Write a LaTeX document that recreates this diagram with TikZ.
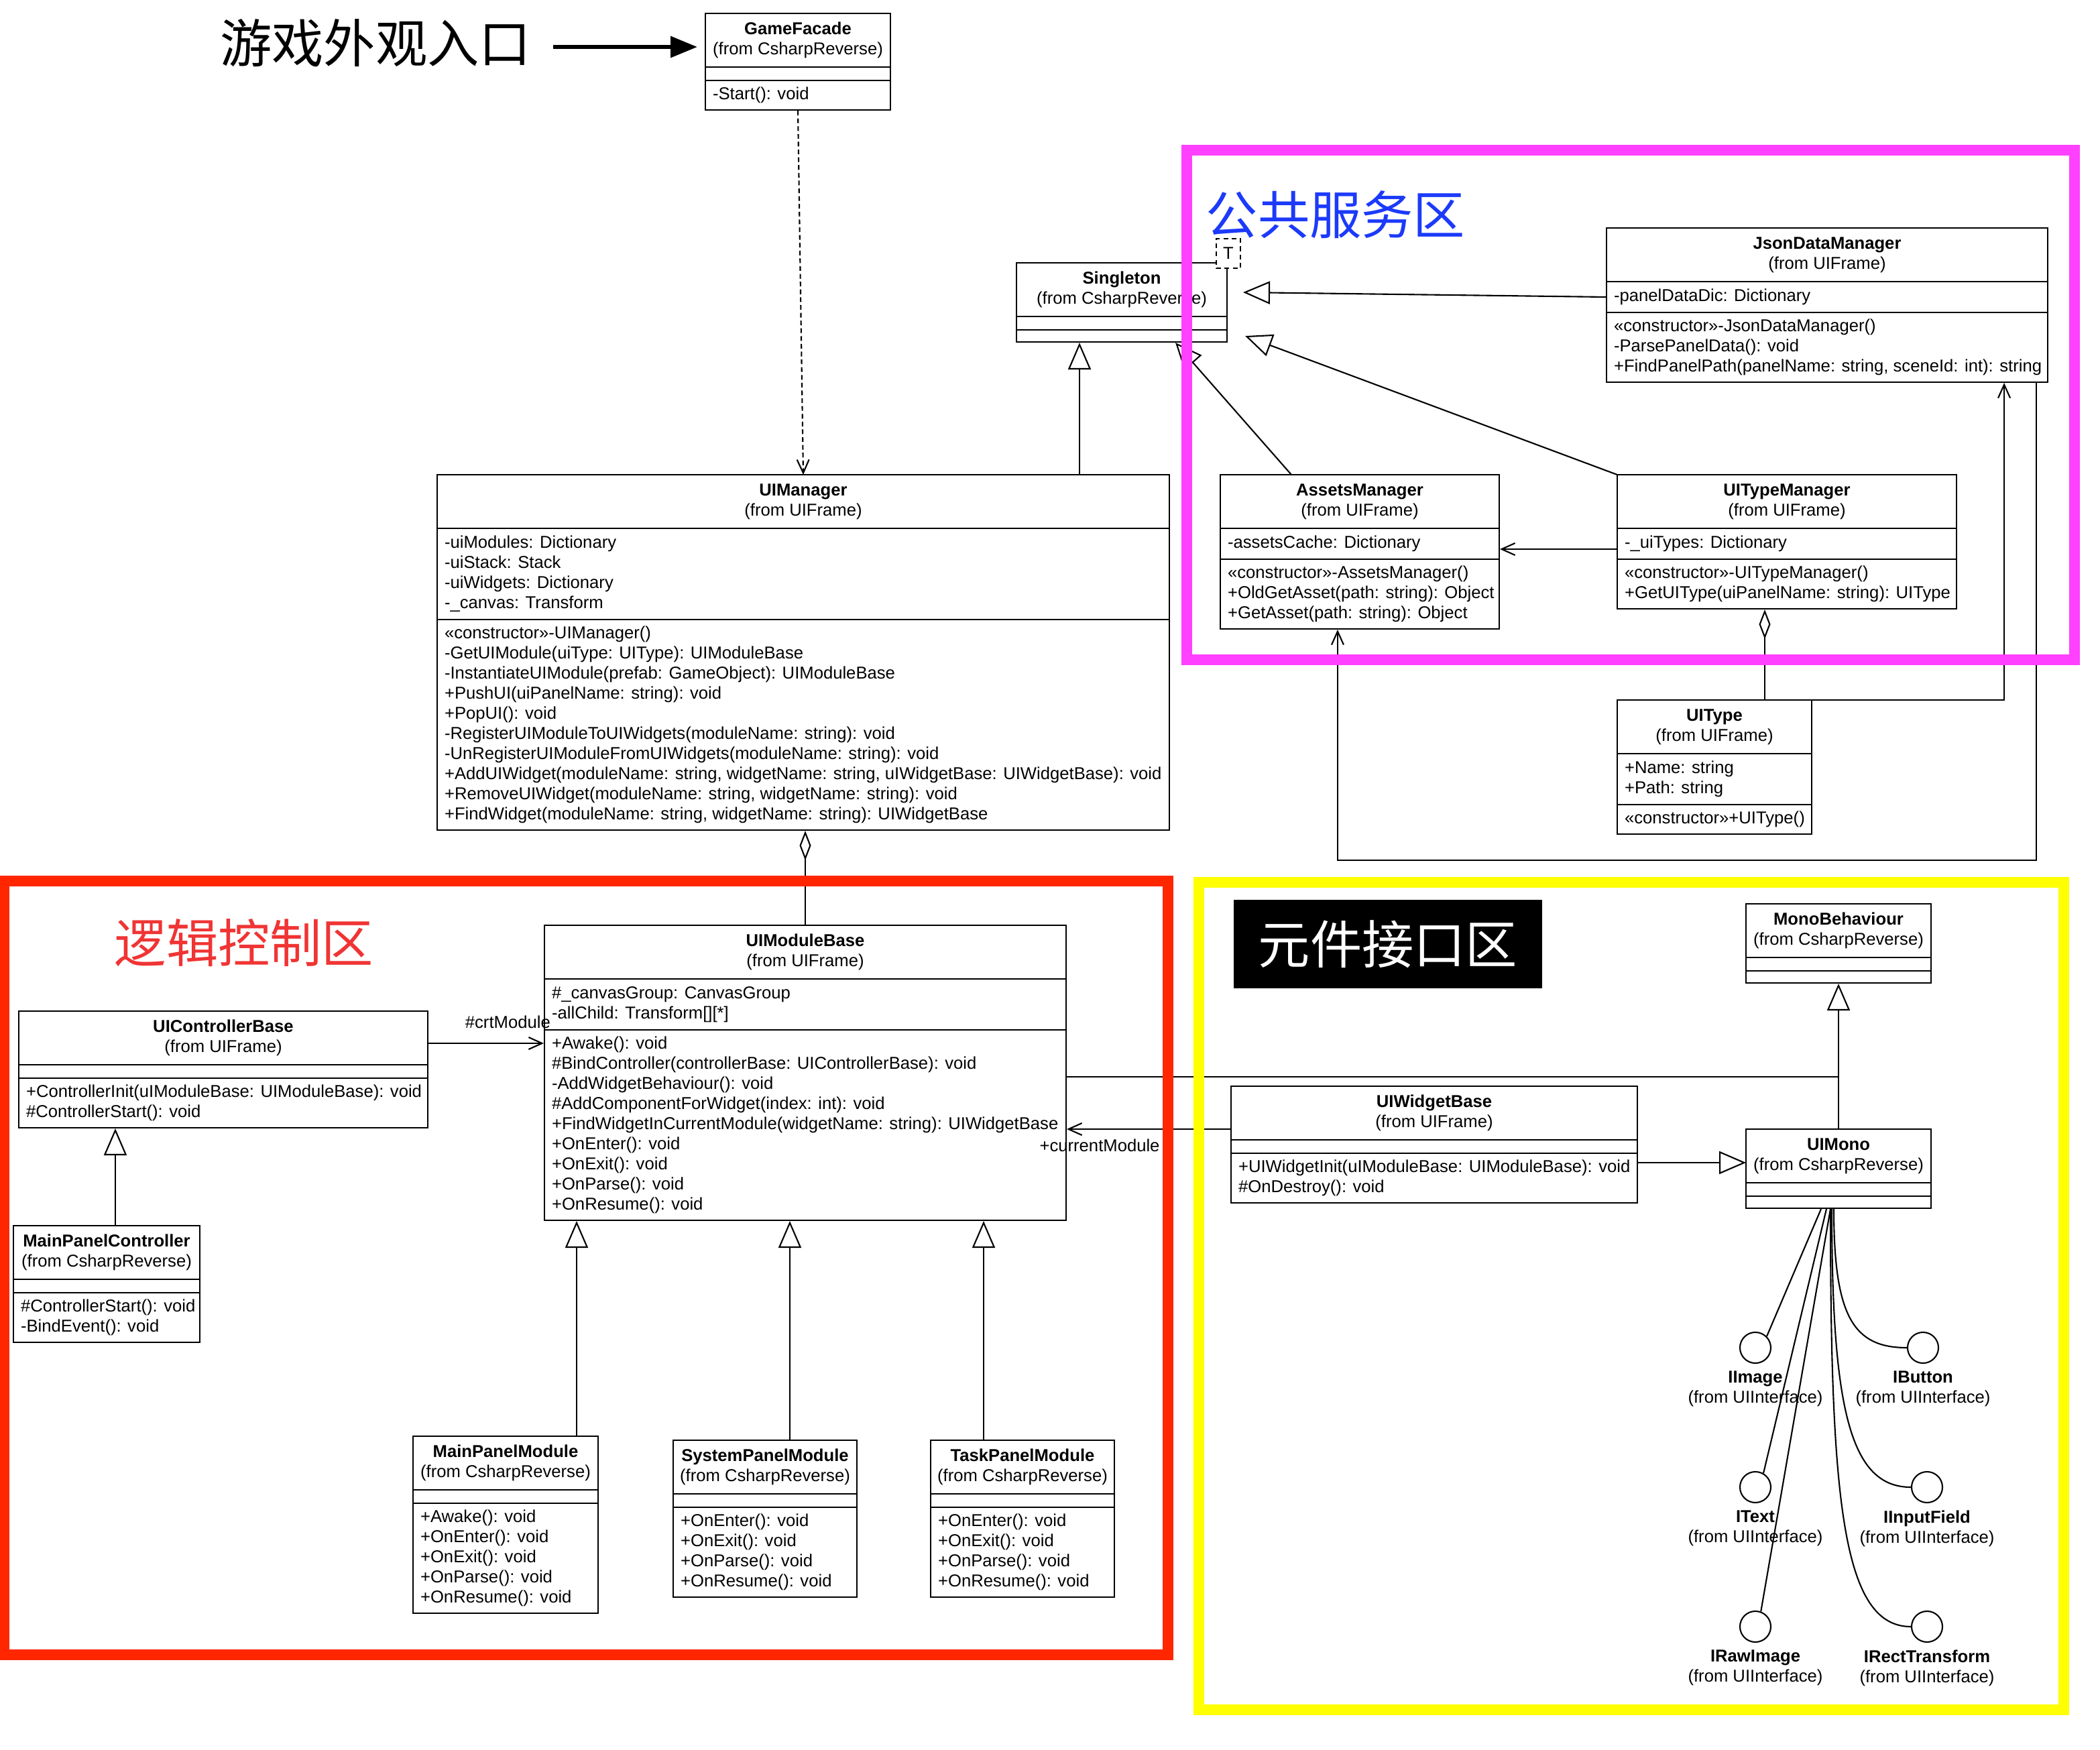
\documentclass[tikz,border=0pt]{standalone}
\usepackage{fontspec}
\setmainfont{Liberation Sans}
\newfontfamily\cjk{Noto Sans CJK SC}
\usetikzlibrary{arrows.meta,positioning,fit,calc}

\definecolor{zonepink}{RGB}{255,64,255}
\definecolor{zonered}{RGB}{255,38,0}
\definecolor{zoneyellow}{RGB}{255,255,0}
\definecolor{labelblue}{RGB}{28,58,250}
\definecolor{labelred}{RGB}{240,52,52}

\newcommand{\hu}{0.02cm}
\newcommand{\umlfont}{\fontsize{7.3}{8.54}\selectfont}

% class box: id, top left, width, attr height, op height, name, package, attributes, operations
\newcommand{\umlclass}[9]{%
  \node[clstitle, minimum width=#3*\hu, anchor=north west] (#1) at (#2) {\textbf{#6}\\(from #7)};
  \node[clspart, minimum width=#3*\hu, minimum height=#4*\hu, anchor=north west] (#1-a) at (#1.south west) {};
  \node[clstext] (#1-at) at (#1-a.west) {#8};
  \node[clspart, minimum width=#3*\hu, minimum height=#5*\hu, anchor=north west] (#1-o) at (#1-a.south west) {};
  \node[clstext] (#1-ot) at (#1-o.west) {#9};
  \node[fit=(#1)(#1-o), inner sep=0pt] (#1-box) {};
}

\begin{document}
\begin{tikzpicture}[x=0.02cm, y=-0.02cm, line width=0.6pt,
  clstitle/.style={draw, fill=white, align=center, inner sep=0pt, outer sep=0pt, minimum height=40*\hu, font=\umlfont},
  clspart/.style={draw, fill=white, inner sep=0pt, outer sep=0pt},
  clstext/.style={anchor=west, align=left, inner xsep=5*\hu, inner ysep=0pt, font=\umlfont},
  gen/.style={-{Triangle[open, length=0.4cm, width=0.34cm]}},
  assoc/.style={-{Straight Barb[length=0.2cm, width=0.18cm]}},
  aggr/.style={-{Diamond[open, length=0.44cm, width=0.17cm]}},
  dep/.style={dash pattern=on 2pt off 1.3pt, -{Straight Barb[length=0.2cm, width=0.18cm]}},
  lbl/.style={font=\umlfont, inner sep=1pt},
  tparambox/.style={draw, dash pattern=on 2pt off 1.5pt, fill=white, font=\umlfont, inner sep=0pt, minimum width=18*\hu, minimum height=22*\hu},
  iface/.style={draw, fill=white, circle, inner sep=0pt, minimum size=23*\hu},
  ifacelbl/.style={font=\umlfont, align=center, inner sep=0pt},
  zone/.style={line width=0.16cm},
  bigzh/.style={font=\cjk\fontsize{22}{26}\selectfont, inner sep=0pt},
  entryarrow/.style={line width=0.06cm, -{Triangle[length=0.4cm, width=0.31cm]}}]

  \fill[white] (0,0) rectangle (1566,1305);
  \useasboundingbox (0,0) rectangle (1566,1305);

  % classes
  \umlclass{facade}{526,10}{138}{10}{22}{GameFacade}{CsharpReverse}{}{-Start(): void}
  \umlclass{singleton}{758,196}{157}{10}{9}{Singleton}{CsharpReverse}{}{}
  \node[tparambox] (tparam) at (916,189) {T};
  \umlclass{json}{1198,170}{329}{23}{52}{JsonDataManager}{UIFrame}{-panelDataDic: Dictionary}{«constructor»-JsonDataManager()\\-ParsePanelData(): void\\+FindPanelPath(panelName: string, sceneId: int): string}
  \umlclass{assets}{910,354}{208}{23}{52}{AssetsManager}{UIFrame}{-assetsCache: Dictionary}{«constructor»-AssetsManager()\\+OldGetAsset(path: string): Object\\+GetAsset(path: string): Object}
  \umlclass{uitypemgr}{1206,354}{253}{23}{37}{UITypeManager}{UIFrame}{-\_uiTypes: Dictionary}{«constructor»-UITypeManager()\\+GetUIType(uiPanelName: string): UIType}
  \umlclass{uitype}{1206,522}{145}{38}{22}{UIType}{UIFrame}{+Name: string\\+Path: string}{«constructor»+UIType()}
  \umlclass{uimanager}{326,354}{546}{68}{157}{UIManager}{UIFrame}{-uiModules: Dictionary\\-uiStack: Stack\\-uiWidgets: Dictionary\\-\_canvas: Transform}{«constructor»-UIManager()\\-GetUIModule(uiType: UIType): UIModuleBase\\-InstantiateUIModule(prefab: GameObject): UIModuleBase\\+PushUI(uiPanelName: string): void\\+PopUI(): void\\-RegisterUIModuleToUIWidgets(moduleName: string): void\\-UnRegisterUIModuleFromUIWidgets(moduleName: string): void\\+AddUIWidget(moduleName: string, widgetName: string, uIWidgetBase: UIWidgetBase): void\\+RemoveUIWidget(moduleName: string, widgetName: string): void\\+FindWidget(moduleName: string, widgetName: string): UIWidgetBase}
  \umlclass{uimodule}{406,690}{389}{38}{142}{UIModuleBase}{UIFrame}{\#\_canvasGroup: CanvasGroup\\-allChild: Transform[][*]}{+Awake(): void\\\#BindController(controllerBase: UIControllerBase): void\\-AddWidgetBehaviour(): void\\\#AddComponentForWidget(index: int): void\\+FindWidgetInCurrentModule(widgetName: string): UIWidgetBase\\+OnEnter(): void\\+OnExit(): void\\+OnParse(): void\\+OnResume(): void}
  \umlclass{ctrl}{14,754}{305}{10}{37}{UIControllerBase}{UIFrame}{}{+ControllerInit(uIModuleBase: UIModuleBase): void\\\#ControllerStart(): void}
  \umlclass{mpc}{10,914}{139}{10}{37}{MainPanelController}{CsharpReverse}{}{\#ControllerStart(): void\\-BindEvent(): void}
  \umlclass{mpm}{308,1071}{138}{10}{82}{MainPanelModule}{CsharpReverse}{}{+Awake(): void\\+OnEnter(): void\\+OnExit(): void\\+OnParse(): void\\+OnResume(): void}
  \umlclass{spm}{502,1074}{137}{10}{67}{SystemPanelModule}{CsharpReverse}{}{+OnEnter(): void\\+OnExit(): void\\+OnParse(): void\\+OnResume(): void}
  \umlclass{tpm}{694,1074}{137}{10}{67}{TaskPanelModule}{CsharpReverse}{}{+OnEnter(): void\\+OnExit(): void\\+OnParse(): void\\+OnResume(): void}
  \umlclass{widget}{918,810}{303}{10}{37}{UIWidgetBase}{UIFrame}{}{+UIWidgetInit(uIModuleBase: UIModuleBase): void\\\#OnDestroy(): void}
  \umlclass{uimono}{1302,842}{138}{10}{9}{UIMono}{CsharpReverse}{}{}
  \umlclass{mono}{1302,674}{138}{10}{9}{MonoBehaviour}{CsharpReverse}{}{}

  % interfaces
  \node[iface] (iimage) at (1309,1005) {};
  \node[iface] (itext) at (1309,1109) {};
  \node[iface] (irawimage) at (1309,1213) {};
  \node[iface] (ibutton) at (1434,1005) {};
  \node[iface] (iinput) at (1437,1109) {};
  \node[iface] (irect) at (1437,1213) {};
  \node[ifacelbl, below=0.1cm of iimage] (iimage-l) {\textbf{IImage}\\(from UIInterface)};
  \node[ifacelbl, below=0.1cm of itext] (itext-l) {\textbf{IText}\\(from UIInterface)};
  \node[ifacelbl, below=0.1cm of irawimage] (irawimage-l) {\textbf{IRawImage}\\(from UIInterface)};
  \node[ifacelbl, below=0.1cm of ibutton] (ibutton-l) {\textbf{IButton}\\(from UIInterface)};
  \node[ifacelbl, below=0.1cm of iinput] (iinput-l) {\textbf{IInputField}\\(from UIInterface)};
  \node[ifacelbl, below=0.1cm of irect] (irect-l) {\textbf{IRectTransform}\\(from UIInterface)};

  % zone titles
  \node[bigzh] (entry) at (280,32) {游戏外观入口};
  \node[bigzh, text=labelblue] (svczone) at (996,160) {公共服务区};
  \node[bigzh, text=labelred] (logiczone) at (182,703) {逻辑控制区};
  \node[bigzh, fill=black, text=white, minimum width=230*\hu, minimum height=66*\hu] (widgetzone) at (1035,704) {元件接口区};

  % connectors
  \draw[entryarrow] ($(entry.east)+(16,3)$) -- ($(facade.west)+(-6,5)$);
  \draw[dep] (facade-box.south) -- (uimanager.north);

  \coordinate (uim-up) at ($(uimanager.north east)+(-67,0)$);
  \draw[gen] (uim-up) -- (uim-up |- singleton-box.south);
  \draw[gen] ($(assets.north west)+(53,0)$) -- ($(singleton-box.south east)+(-39,0)$);
  \draw[gen] (uitypemgr.north west) -- ($(singleton-box.south east)+(13,-5)$);
  \draw[gen] (json-a.west) -- ($(singleton.north east)+(12,22)$);

  \draw[assoc] ($(uitypemgr-a.west)+(0,4)$) coordinate (tm-out) -- (tm-out -| assets-box.east);
  \draw[assoc] ($(json-box.south east)+(-9,0)$) -- ++(0,356) -| ($(assets-box.south west)+(88,0)$);
  \draw[assoc] ($(uitype.north east)+(-35,0)$) coordinate (ut-top) -| ($(json-box.south east)+(-33,0)$);
  \draw[aggr] (ut-top) -- (ut-top |- uitypemgr-box.south);

  \draw[aggr] (uimodule.north) -- (uimodule.north |- uimanager-box.south);
  \draw[assoc] ($(ctrl.east)+(0,4)$) coordinate (cb-out) -- (cb-out -| uimodule-box.west)
    node[lbl, pos=0.69, above=5pt] (crt-l) {\#crtModule};
  \draw[assoc] ($(widget.west)+(0,12)$) coordinate (wb-out) -- (wb-out -| uimodule-box.east)
    node[lbl, pos=0.8, below=3pt] (cur-l) {+currentModule};

  \draw ($(uimodule-box.east)+(0,3)$) coordinate (mb-out) -- (mb-out -| mono-box.south);
  \draw[gen] (uimono.north) -- (mono-box.south);
  \coordinate (mono-in) at ($(uimono.west)+(0,5)$);
  \draw[gen] (mono-in -| widget-box.east) -- (mono-in);

  \coordinate (mpc-up) at ($(mpc.north west)+(76,0)$);
  \draw[gen] (mpc-up) -- (mpc-up |- ctrl-box.south);
  \coordinate (mpm-up) at ($(mpm.north east)+(-16,0)$);
  \draw[gen] (mpm-up) -- (mpm-up |- uimodule-box.south);
  \coordinate (spm-up) at ($(spm.north)+(18.5,0)$);
  \draw[gen] (spm-up) -- (spm-up |- uimodule-box.south);
  \coordinate (tpm-up) at ($(tpm.north)+(-29,0)$);
  \draw[gen] (tpm-up) -- (tpm-up |- uimodule-box.south);

  \draw ($(uimono-box.south)+(-13,0)$) -- (iimage.45);
  \draw ($(uimono-box.south)+(-9,0)$) -- (itext.60);
  \draw ($(uimono-box.south)+(-6,0)$) -- (irawimage.70);
  \draw ($(uimono-box.south)+(-3.5,0)$) .. controls +(0,80) and +(-40,0) .. (ibutton.west);
  \draw ($(uimono-box.south)+(-5,0)$) .. controls +(0,150) and +(-45,0) .. (iinput.west);
  \draw ($(uimono-box.south)+(-6,0)$) .. controls +(0,218) and +(-51,0) .. (irect.west);

  % zones
  \draw[zone, zonepink] (885,112) rectangle (1547,492);
  \draw[zone, zonered] (3,657) rectangle (871,1234);
  \draw[zone, zoneyellow] (894,658) rectangle (1539,1275);
\end{tikzpicture}
\end{document}
